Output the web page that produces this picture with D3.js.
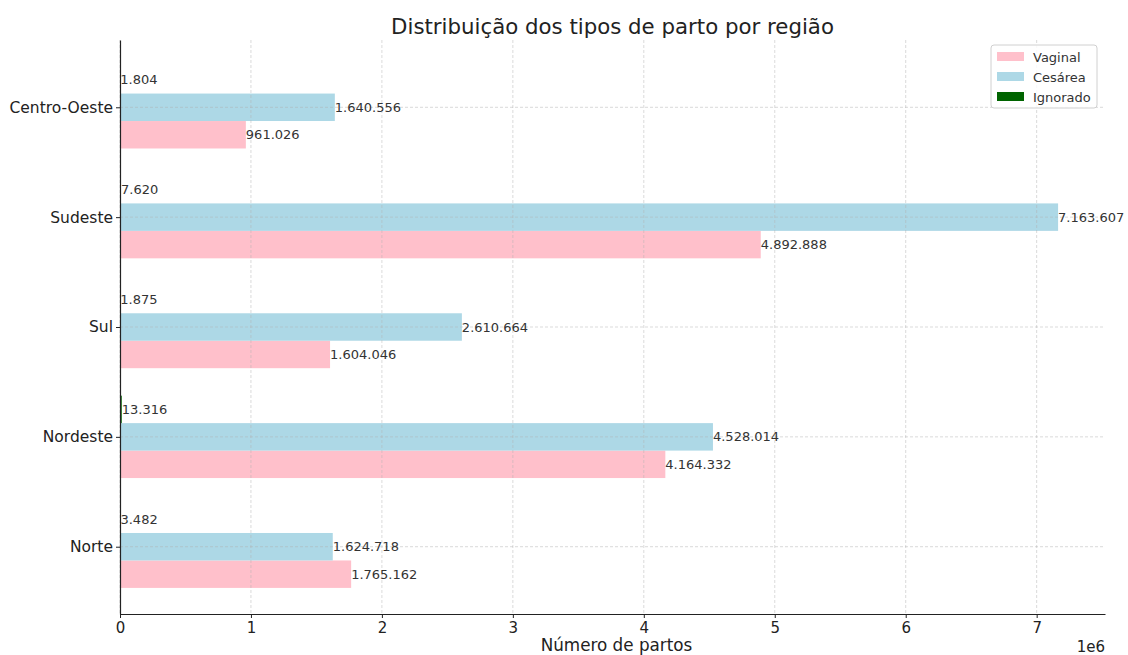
<!DOCTYPE html>
<html>
<head>
<meta charset="utf-8">
<script src="https://cdn.jsdelivr.net/npm/d3@7"></script>
<style>
  body { margin: 0; background: #fff; }
  text { font-family: "DejaVu Sans", sans-serif; }
</style>
</head>
<body>
<div id="main"></div>
<script>
// dados
const regioes = ["Norte", "Nordeste", "Sul", "Sudeste", "Centro-Oeste"];
const vaginal = [1765162, 4164332, 1604046, 4892888, 961026];
const cesarea = [1624718, 4528014, 2610664, 7163607, 1640556];
const ignorado = [3482, 13316, 1875, 7620, 1804];
const series = ["Vaginal", "Cesárea", "Ignorado"];
const cores = ["#ffc0cb", "#add8e6", "#006400"];
const xTicks = [0, 1, 2, 3, 4, 5, 6, 7];

const W = 1128, H = 655;
const area = { left: 120, right: 1105, top: 40, bottom: 614 };
const barH = 0.25;

const svg = d3.select("#main").append("svg")
  .attr("width", W).attr("height", H);

const maxVal = d3.max(cesarea.concat(vaginal));
const x = d3.scaleLinear().domain([0, maxVal * 1.05 / 1e6]).range([area.left, area.right]);
const yLo = -barH * 1.5, yHi = regioes.length - 1 + barH * 1.5;
const pad = (yHi - yLo) * 0.05;
const y = d3.scaleLinear().domain([yLo - pad, yHi + pad]).range([area.bottom, area.top]);

const fmt = d3.formatLocale({ decimal: ",", thousands: ".", grouping: [3], currency: ["R$", ""] }).format(",d");

const dados = [vaginal, cesarea, ignorado];
const offsets = [-barH, 0, barH];

// barras
dados.forEach((vals, s) => {
  svg.append("g").selectAll("rect")
    .data(vals)
    .join("rect")
    .attr("x", x(0))
    .attr("y", (d, i) => y(i + offsets[s] + barH / 2))
    .attr("width", d => x(d / 1e6) - x(0))
    .attr("height", y(0) - y(barH))
    .attr("fill", cores[s]);
});

// grade
const grid = svg.append("g")
  .attr("stroke", "#b0b0b0").attr("stroke-opacity", 0.6)
  .attr("stroke-dasharray", "3,2").attr("stroke-width", 0.8);
grid.selectAll("line.v").data(xTicks).join("line").attr("class", "v")
  .attr("x1", d => x(d)).attr("x2", d => x(d))
  .attr("y1", area.top).attr("y2", area.bottom);
grid.selectAll("line.h").data(regioes).join("line").attr("class", "h")
  .attr("x1", area.left).attr("x2", area.right)
  .attr("y1", (d, i) => y(i)).attr("y2", (d, i) => y(i));

// rotulos dos valores
dados.forEach((vals, s) => {
  svg.append("g").selectAll("text")
    .data(vals)
    .join("text")
    .attr("x", d => x(d / 1e6))
    .attr("y", (d, i) => y(i + offsets[s]))
    .attr("dy", "0.35em")
    .attr("font-size", "13px")
    .attr("fill", "#333")
    .text(d => fmt(d));
});

// eixo X
const xAxis = svg.append("g")
  .attr("transform", `translate(0,${area.bottom})`)
  .call(d3.axisBottom(x).tickValues(xTicks).tickFormat(d3.format("d")).tickSize(4).tickSizeOuter(0).tickPadding(4));
xAxis.selectAll("text").attr("font-size", "15px").attr("fill", "#222").attr("font-family", "DejaVu Sans");
xAxis.selectAll("line").attr("stroke", "#222");
xAxis.select(".domain").attr("stroke", "#222").attr("stroke-width", 1.2);

// eixo Y
const yAxis = svg.append("g")
  .attr("transform", `translate(${area.left},0)`)
  .call(d3.axisLeft(y).tickValues(d3.range(regioes.length)).tickFormat(i => regioes[i]).tickSize(4).tickSizeOuter(0).tickPadding(3));
yAxis.selectAll("text").attr("font-size", "15.5px").attr("fill", "#222").attr("font-family", "DejaVu Sans");
yAxis.selectAll("line").attr("stroke", "#222");
yAxis.select(".domain").attr("stroke", "#222").attr("stroke-width", 1.2);

// titulo
svg.append("text")
  .attr("x", (area.left + area.right) / 2).attr("y", 34)
  .attr("text-anchor", "middle")
  .attr("font-size", "21.3px").attr("fill", "#222")
  .text("Distribuição dos tipos de parto por região");

// label do eixo X
svg.append("text")
  .attr("x", (area.left + area.right) / 2 + 4).attr("y", 651)
  .attr("text-anchor", "middle")
  .attr("font-size", "16.8px").attr("fill", "#222")
  .text("Número de partos");

svg.append("text")
  .attr("x", area.right).attr("y", 652)
  .attr("text-anchor", "end")
  .attr("font-size", "15px").attr("fill", "#222")
  .text("1e6");

// legenda
const leg = svg.append("g").attr("transform", "translate(991,45)");
leg.append("rect")
  .attr("width", 106).attr("height", 63).attr("rx", 3)
  .attr("fill", "#fff").attr("fill-opacity", 0.85)
  .attr("stroke", "#d0d0d0");
series.forEach((s, i) => {
  leg.append("rect")
    .attr("x", 6).attr("y", 7 + i * 20)
    .attr("width", 27).attr("height", 9)
    .attr("fill", cores[i]);
  leg.append("text")
    .attr("x", 42).attr("y", 12 + i * 20)
    .attr("dy", "0.35em")
    .attr("font-size", "13px").attr("fill", "#333")
    .text(s);
});
</script>
</body>
</html>
